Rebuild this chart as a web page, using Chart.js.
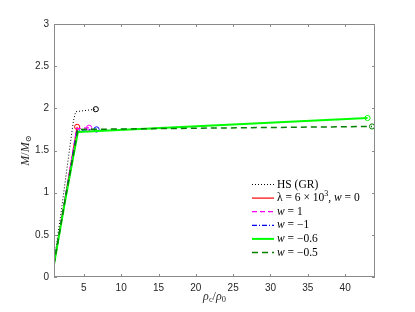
<!DOCTYPE html>
<html>
<head>
<meta charset="utf-8">
<script src="https://cdn.jsdelivr.net/npm/chart.js@4/dist/chart.umd.min.js"></script>
<style>
  html, body { margin: 0; padding: 0; background: #ffffff; }
  canvas { display: block; }
</style>
</head>
<body>
<canvas id="c" width="415" height="312"></canvas>
<script>
// ---- data ----
const xTicks = [5, 10, 15, 20, 25, 30, 35, 40];
const yTicks = [0, 0.5, 1, 1.5, 2, 2.5, 3];

const hsX = [1, 2, 3.06, 3.6, 3.9, 6.6];
const hsY = [0.17, 0.8, 1.5, 1.85, 1.96, 1.99];

const lamX = [1, 2.5, 4.1];
const lamY = [0.16, 0.94, 1.78];

const w1X = [1, 2.5, 4.05, 5.7];
const w1Y = [0.16, 0.94, 1.76, 1.77];

const wm1X = [1, 2.5, 4.1, 6.7];
const wm1Y = [0.16, 0.93, 1.74, 1.75];

const wm06X = [1, 2.5, 4.2, 43.0];
const wm06Y = [0.15, 0.91, 1.72, 1.885];

const wm05X = [1, 2.5, 4.2, 43.6];
const wm05Y = [0.15, 0.92, 1.75, 1.785];

const seriesNames = [
  [["HS (GR)", "n"]],
  [["λ = 6 × 10", "n"], ["3", "s"], [", ", "n"], ["w", "i"], [" = 0", "n"]],
  [["w", "i"], [" = 1", "n"]],
  [["w", "i"], [" = −1", "n"]],
  [["w", "i"], [" = −0.6", "n"]],
  [["w", "i"], [" = −0.5", "n"]]
];

function pts(xs, ys) { return xs.map((x, i) => ({ x: x, y: ys[i] })); }
function lastOnly(n, r) { return Array.from({ length: n }, (_, i) => (i === n - 1 ? r : 0)); }

const styles = [
  { color: '#000000', width: 1, dash: [1, 2] },
  { color: '#ff0000', width: 1.2, dash: [] },
  { color: '#ff00ff', width: 1.3, dash: [5, 3] },
  { color: '#0000ff', width: 1.3, dash: [5, 2, 1, 2] },
  { color: '#00ff00', width: 2, dash: [] },
  { color: '#007f00', width: 1.5, dash: [6, 4] }
];
const allX = [hsX, lamX, w1X, wm1X, wm06X, wm05X];
const allY = [hsY, lamY, w1Y, wm1Y, wm06Y, wm05Y];

const datasets = allX.map((xs, i) => ({
  label: 'series' + i,
  data: pts(xs, allY[i]),
  borderColor: styles[i].color,
  backgroundColor: 'rgba(0,0,0,0)',
  borderWidth: styles[i].width,
  borderDash: styles[i].dash,
  pointRadius: lastOnly(xs.length, 2.6),
  pointBorderWidth: 1,
  pointBorderColor: styles[i].color,
  pointBackgroundColor: 'rgba(0,0,0,0)',
  tension: 0,
  order: 10 - i
}));

const TEXT = '#262626';
const BOX = '#8a8a8a';

function drawRuns(ctx, runs, x, y, size) {
  let cx = x;
  runs.forEach(([t, s]) => {
    if (s === 's') {
      ctx.font = (size * 0.7) + 'px "Liberation Serif", "DejaVu Serif", serif';
      ctx.fillText(t, cx, y - size * 0.4);
    } else if (s === 'b') {
      ctx.font = (size * 0.7) + 'px "Liberation Serif", "DejaVu Serif", serif';
      ctx.fillText(t, cx, y + size * 0.25);
    } else if (s === 'i') {
      ctx.font = 'italic ' + size + 'px "Liberation Serif", "DejaVu Serif", serif';
      ctx.fillText(t, cx, y);
    } else {
      ctx.font = size + 'px "Liberation Serif", "DejaVu Serif", serif';
      ctx.fillText(t, cx, y);
    }
    cx += ctx.measureText(t).width;
  });
  return cx - x;
}
function measureRuns(ctx, runs, size) {
  let w = 0;
  runs.forEach(([t, s]) => {
    if (s === 's' || s === 'b') ctx.font = (size * 0.7) + 'px "Liberation Serif", serif';
    else if (s === 'i') ctx.font = 'italic ' + size + 'px "Liberation Serif", serif';
    else ctx.font = size + 'px "Liberation Serif", serif';
    w += ctx.measureText(t).width;
  });
  return w;
}

const decor = {
  id: 'decor',
  afterDraw(chart) {
    const ctx = chart.ctx;
    const a = chart.chartArea;
    const xs = chart.scales.x, ys = chart.scales.y;
    ctx.save();
    // box
    ctx.strokeStyle = BOX;
    ctx.lineWidth = 1;
    ctx.setLineDash([]);
    ctx.strokeRect(a.left + 0.5, a.top + 0.5, a.right - a.left - 1, a.bottom - a.top - 1);
    // inward ticks
    const tl = 3;
    ctx.beginPath();
    xTicks.forEach(v => {
      const px = Math.round(xs.getPixelForValue(v)) + 0.5;
      ctx.moveTo(px, a.bottom); ctx.lineTo(px, a.bottom - tl);
      ctx.moveTo(px, a.top); ctx.lineTo(px, a.top + tl);
    });
    yTicks.forEach(v => {
      const py = Math.round(ys.getPixelForValue(v)) + 0.5;
      ctx.moveTo(a.left, py); ctx.lineTo(a.left + tl, py);
      ctx.moveTo(a.right, py); ctx.lineTo(a.right - tl, py);
    });
    ctx.stroke();

    // axis titles
    ctx.fillStyle = TEXT;
    ctx.textBaseline = 'middle';
    ctx.textAlign = 'left';
    const xr = [["ρ", "i"], ["c", "b"], ["/", "n"], ["ρ", "i"], ["0", "b"]];
    const xw = measureRuns(ctx, xr, 12);
    drawRuns(ctx, xr, (a.left + a.right) / 2 - xw / 2, 297, 12);
    const yr = [["M", "i"], ["/", "n"], ["M", "i"], ["⊙", "b"]];
    const yw = measureRuns(ctx, yr, 12);
    ctx.save();
    ctx.translate(26, (a.top + a.bottom) / 2);
    ctx.rotate(-Math.PI / 2);
    drawRuns(ctx, yr, -yw / 2, 0, 12);
    ctx.restore();

    // legend
    const lx0 = 252, lx1 = 274, tx = 277, y0 = 184.5, step = 13.6;
    chart.data.datasets.forEach((ds, i) => {
      const y = y0 + i * step;
      ctx.strokeStyle = ds.borderColor;
      ctx.lineWidth = ds.borderWidth;
      ctx.setLineDash(ds.borderDash);
      ctx.beginPath();
      ctx.moveTo(lx0, y); ctx.lineTo(lx1, y);
      ctx.stroke();
      ctx.setLineDash([]);
      ctx.fillStyle = '#000000';
      ctx.textBaseline = 'middle';
      drawRuns(ctx, seriesNames[i], tx, y, 11.5);
    });
    ctx.restore();
  }
};

new Chart(document.getElementById('c'), {
  type: 'line',
  data: { datasets: datasets },
  options: {
    responsive: false,
    devicePixelRatio: 1,
    animation: false,
    parsing: true,
    layout: { padding: { left: 0, top: 24, right: 40, bottom: 0 } },
    plugins: { legend: { display: false }, tooltip: { enabled: false } },
    scales: {
      x: {
        type: 'linear',
        min: 1, max: 44,
        afterBuildTicks: s => { s.ticks = xTicks.map(v => ({ value: v })); },
        afterFit: s => { s.height = 35; },
        grid: { display: false, drawTicks: false },
        border: { display: false },
        ticks: {
          padding: 5,
          maxRotation: 0,
          color: TEXT,
          font: { family: '"Liberation Sans", Arial, sans-serif', size: 10 },
          callback: v => String(v)
        }
      },
      y: {
        type: 'linear',
        min: 0, max: 3,
        afterBuildTicks: s => { s.ticks = yTicks.map(v => ({ value: v })); },
        afterFit: s => { s.width = 54; },
        grid: { display: false, drawTicks: false },
        border: { display: false },
        ticks: {
          padding: 5,
          color: TEXT,
          font: { family: '"Liberation Sans", Arial, sans-serif', size: 10 },
          callback: v => String(v)
        }
      }
    }
  },
  plugins: [decor]
});
</script>
</body>
</html>
